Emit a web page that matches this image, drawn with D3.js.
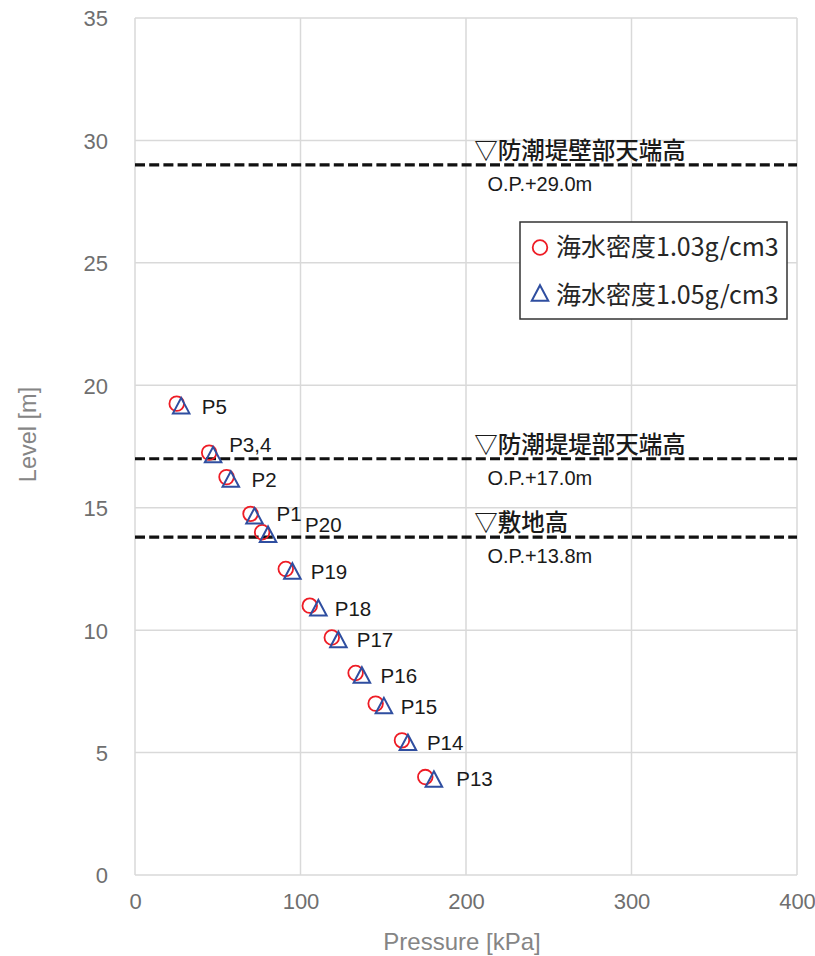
<!DOCTYPE html>
<html>
<head>
<meta charset="utf-8">
<script src="https://cdn.jsdelivr.net/npm/d3@7"></script>
<style>
  html, body { margin: 0; padding: 0; background: #ffffff; }
  svg { display: block; }
</style>
</head>
<body>
<div id="chart"></div>
<script>
// Measurement points (label, level in m)
const pointNames = ["P5", "P3,4", "P2", "P1", "P20", "P19", "P18", "P17", "P16", "P15", "P14", "P13"];
const levels     = [19.25, 17.25, 16.25, 14.75, 14.0, 12.5, 11.0, 9.7, 8.25, 7.0, 5.5, 4.0];

// Pressure [kPa] for each sea-water density
const pressure103 = [25.2, 44.8, 55.3, 69.8, 76.8, 91.1, 105.6, 118.9, 133.3, 145.4, 161.3, 175.4];
const pressure105 = [27.9, 47.2, 57.9, 72.2, 80.4, 95.1, 110.8, 122.9, 137.1, 150.4, 164.9, 180.6];

const seriesNames = ["海水密度1.03g/cm3", "海水密度1.05g/cm3"];

// Reference elevations
const refLevels = [29.0, 17.0, 13.8];
const refTitles = ["▽防潮堤壁部天端高", "▽防潮堤堤部天端高", "▽敷地高"];
const refTexts  = ["O.P.+29.0m", "O.P.+17.0m", "O.P.+13.8m"];

// Axis ticks
const xTicks = [0, 100, 200, 300, 400];
const yTicks = [0, 5, 10, 15, 20, 25, 30, 35];

// ---- layout ----
const W = 815, H = 956;
const plot = { left: 135, right: 797, top: 18, bottom: 875 };

// label placement relative to the circle marker (px)
const labelOffset = { dx: 25, dy: 10 };
const labelOverrides = {
  "P3,4": { dx: 20, dy: -1 },
  "P1":   { dx: 26, dy: 7 },
  "P20":  { dx: 43, dy: 0 },
  "P13":  { dx: 31, dy: 9 }
};

const x = d3.scaleLinear().domain([0, 400]).range([plot.left, plot.right]);
const y = d3.scaleLinear().domain([0, 35]).range([plot.bottom, plot.top]);

const svg = d3.select("#chart").append("svg")
  .attr("width", W).attr("height", H);

const gridColor = "#d9d9d9";
const tickColor = "#6f6f6f";
const titleColor = "#858585";

// gridlines
svg.append("g").selectAll("line.v").data(xTicks).join("line")
  .attr("x1", d => x(d)).attr("x2", d => x(d))
  .attr("y1", plot.top).attr("y2", plot.bottom)
  .attr("stroke", gridColor).attr("stroke-width", 1.5);
svg.append("g").selectAll("line.h").data(yTicks).join("line")
  .attr("x1", plot.left).attr("x2", plot.right)
  .attr("y1", d => y(d)).attr("y2", d => y(d))
  .attr("stroke", gridColor).attr("stroke-width", 1.5);

// axes (labels only, using d3 axis generators)
const xAxis = d3.axisBottom(x).tickValues(xTicks).tickSize(0).tickPadding(0);
const yAxis = d3.axisLeft(y).tickValues(yTicks).tickSize(0).tickPadding(0);

const gx = svg.append("g").attr("transform", `translate(0,${plot.bottom + 26})`).call(xAxis);
const gy = svg.append("g").attr("transform", `translate(${plot.left - 27},0)`).call(yAxis);
[gx, gy].forEach(g => {
  g.select(".domain").remove();
  g.selectAll("text")
    .attr("fill", tickColor)
    .style("font-family", "'Liberation Sans Narrow', 'Liberation Sans', Arial, sans-serif")
    .style("font-size", "22px");
});
gx.selectAll("text").attr("dy", "0.71em").attr("y", -8);
gy.selectAll("text").attr("dy", "0.36em");

// axis titles
svg.append("text")
  .attr("x", (plot.left + plot.right) / 2 - 4).attr("y", 950)
  .attr("text-anchor", "middle")
  .attr("fill", titleColor)
  .style("font-family", "'Liberation Sans', Arial, sans-serif")
  .style("font-size", "24px")
  .text("Pressure [kPa]");
svg.append("text")
  .attr("transform", `translate(36,${(plot.top + plot.bottom) / 2 - 12}) rotate(-90)`)
  .attr("text-anchor", "middle")
  .attr("fill", titleColor)
  .style("font-family", "'Liberation Sans', Arial, sans-serif")
  .style("font-size", "23.5px")
  .text("Level [m]");

// reference lines
const refs = refLevels.map((v, i) => ({ v, title: refTitles[i], text: refTexts[i] }));
const gRef = svg.append("g");
gRef.selectAll("line").data(refs).join("line")
  .attr("x1", plot.left).attr("x2", plot.right)
  .attr("y1", d => y(d.v)).attr("y2", d => y(d.v))
  .attr("stroke", "#111").attr("stroke-width", 3.2)
  .attr("stroke-dasharray", "10,4.2");
gRef.selectAll("text.title").data(refs).join("text")
  .attr("class", "title")
  .attr("x", x(205)).attr("y", d => y(d.v) - 6)
  .attr("fill", "#1a1a1a")
  .style("font-family", "'Noto Sans CJK JP', sans-serif")
  .style("font-size", "23.5px")
  .style("font-weight", 500)
  .text(d => d.title);
gRef.selectAll("text.sub").data(refs).join("text")
  .attr("class", "sub")
  .attr("x", x(213)).attr("y", d => y(d.v) + 26)
  .attr("fill", "#1a1a1a")
  .style("font-family", "'Liberation Sans', Arial, sans-serif")
  .style("font-size", "20px")
  .text(d => d.text);

// markers
const pts = pointNames.map((n, i) => ({ n, lv: levels[i], p3: pressure103[i], p5: pressure105[i] }));

const circleColor = "#ee1c25";
const triColor = "#2f4ea0";
const triW = 16.5, triH = 15.5;
const triPath = `M0,${-triH / 2}L${triW / 2},${triH / 2}L${-triW / 2},${triH / 2}Z`;

const gMarks = svg.append("g");
gMarks.selectAll("circle").data(pts).join("circle")
  .attr("cx", d => x(d.p3)).attr("cy", d => y(d.lv))
  .attr("r", 7.3)
  .attr("fill", "none").attr("stroke", circleColor).attr("stroke-width", 1.8);
gMarks.selectAll("path").data(pts).join("path")
  .attr("d", triPath)
  .attr("transform", d => `translate(${x(d.p5)},${y(d.lv) + 2})`)
  .attr("fill", "none").attr("stroke", triColor).attr("stroke-width", 2)
  .attr("stroke-linejoin", "miter");

// point labels
gMarks.selectAll("text").data(pts).join("text")
  .attr("x", d => x(d.p3) + (labelOverrides[d.n] || labelOffset).dx)
  .attr("y", d => y(d.lv) + (labelOverrides[d.n] || labelOffset).dy)
  .attr("fill", "#1a1a1a")
  .style("font-family", "'Liberation Sans', Arial, sans-serif")
  .style("font-size", "20.5px")
  .text(d => d.n);

// legend
const lg = svg.append("g");
lg.append("rect")
  .attr("x", 520).attr("y", 222).attr("width", 267).attr("height", 97)
  .attr("fill", "#fff").attr("stroke", "#333").attr("stroke-width", 1.5);
lg.append("circle")
  .attr("cx", 540).attr("cy", 247.5).attr("r", 7.3)
  .attr("fill", "none").attr("stroke", circleColor).attr("stroke-width", 1.8);
lg.append("path")
  .attr("d", triPath)
  .attr("transform", "translate(540,293)")
  .attr("fill", "none").attr("stroke", triColor).attr("stroke-width", 2);
lg.selectAll("text").data(seriesNames).join("text")
  .attr("x", 556).attr("y", (d, i) => 256 + i * 48)
  .attr("fill", "#262626")
  .style("font-family", "'Noto Sans CJK JP', sans-serif")
  .style("font-size", "25px")
  .text(d => d);
</script>
</body>
</html>
